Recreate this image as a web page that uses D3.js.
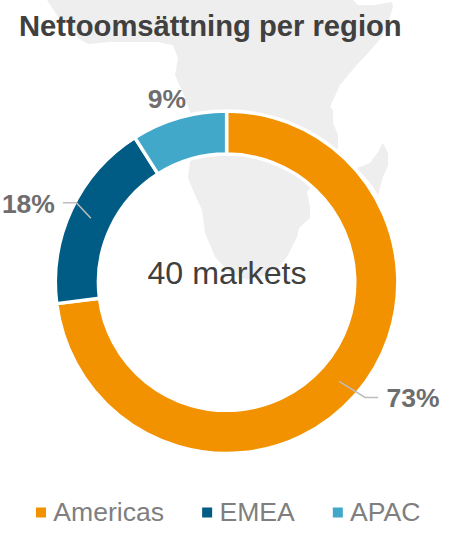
<!DOCTYPE html>
<html>

<head>
    <meta charset="utf-8">
    <title>Nettoomsättning per region</title>
    <script src="https://d3js.org/d3.v7.min.js"></script>
    <style>
        body { margin: 0; background: #fff; }
        svg { display: block; }
        text { font-family: "Liberation Sans", Arial, sans-serif; }
    </style>
</head>

<body>
    <svg width="449" height="533"></svg>

    <script>
        const regions = ["Americas", "EMEA", "APAC"];
        const shares = [73, 18, 9];
        const colors = ["#F39200", "#005C85", "#42A8CA"];
        const titleText = "Nettoomsättning per region";
        const centerText = "40 markets";

        let svg = d3.select("svg"),
            width = +svg.attr("width"),
            height = +svg.attr("height");

        const cx = 226.6, cy = 282.2;

        // map of southern Africa behind the ring (decoration only)
        const africa = "M47,0 L60,20 L67,22 L78,38 L88,44 L110,42 L133,42 L157,42 L173,45 L178,58 L175,75 L183,93 L190,112 L190,162 " +
            "L188,178 L195,195 L202,210 L205,233 L215,257 L230,273 L247,280 L262,276 L278,268 L287,257 L297,237 L299,228 L310,218 L310,207 L307,192 L312,186 " +
            "L338,148 L338,135 L333,123 L333,110 L330,107 L340,85 L355,67 L368,53 L382,37 L390,17 L393,7 L392,2 L375,5 L358,5 L353,0 Z";
        const madagascar = "M383,143 L388,153 L388,165 L383,177 L378,195 L372,185 L357,168 L370,163 L378,152 Z";

        svg.append("g").selectAll("path")
            .data([africa, madagascar])
            .join("path")
            .attr("d", d => d)
            .attr("fill", "#eeeeee");

        let pie = d3.pie().sort(null);
        let arc = d3.arc().innerRadius(128.2).outerRadius(171.2);
        let leaderArc = d3.arc().innerRadius(150).outerRadius(150);

        let ring = svg.append("g").attr("transform", `translate(${cx},${cy})`);
        let slices = pie(shares);

        ring.selectAll("path")
            .data(slices)
            .join("path")
            .attr("d", arc)
            .attr("fill", (d, i) => colors[i])
            .attr("stroke", "#fff")
            .attr("stroke-width", 3.4);

        // leader lines start on the middle of the slice
        const leaders = [
            { index: 0, elbow: [26, 16], end: [39, 16] },
            { index: 1, elbow: [-14.5, -15.5], end: [-28, -15.5] }
        ];
        ring.selectAll("polyline")
            .data(leaders)
            .join("polyline")
            .attr("points", d => {
                let c = leaderArc.centroid(slices[d.index]);
                return [c, [c[0] + d.elbow[0], c[1] + d.elbow[1]], [c[0] + d.end[0], c[1] + d.end[1]]].join(" ");
            })
            .attr("fill", "none")
            .attr("stroke", "#bdbdbd")
            .attr("stroke-width", 1.5);

        // percent labels, offset from the same point
        const labelOffsets = [[47.5, 26], [-89, -5.5], [-37, -30]];
        ring.selectAll("text")
            .data(slices)
            .join("text")
            .attr("x", (d, i) => leaderArc.centroid(d)[0] + labelOffsets[i][0])
            .attr("y", (d, i) => leaderArc.centroid(d)[1] + labelOffsets[i][1])
            .attr("font-size", 26.5)
            .attr("font-weight", "bold")
            .attr("fill", "#6e6e6e")
            .text(d => d.data + "%");

        svg.append("text")
            .attr("x", 19)
            .attr("y", 36)
            .attr("font-size", 29.2)
            .attr("font-weight", "bold")
            .attr("fill", "#404040")
            .text(titleText);

        svg.append("text")
            .attr("x", cx + 0.4)
            .attr("y", 284)
            .attr("text-anchor", "middle")
            .attr("font-size", 32.2)
            .attr("fill", "#404040")
            .text(centerText);

        // legend flows left to right using the text widths
        let legendX = 36;
        regions.forEach((name, i) => {
            svg.append("rect")
                .attr("x", legendX)
                .attr("y", 507.5)
                .attr("width", 10)
                .attr("height", 10)
                .attr("fill", colors[i]);
            let label = svg.append("text")
                .attr("x", legendX + 17.3)
                .attr("y", 521)
                .attr("font-size", 26.6)
                .attr("fill", "#7f7f7f")
                .text(name);
            legendX += 17.3 + label.node().getComputedTextLength() + 38;
        });
    </script>
</body>

</html>
